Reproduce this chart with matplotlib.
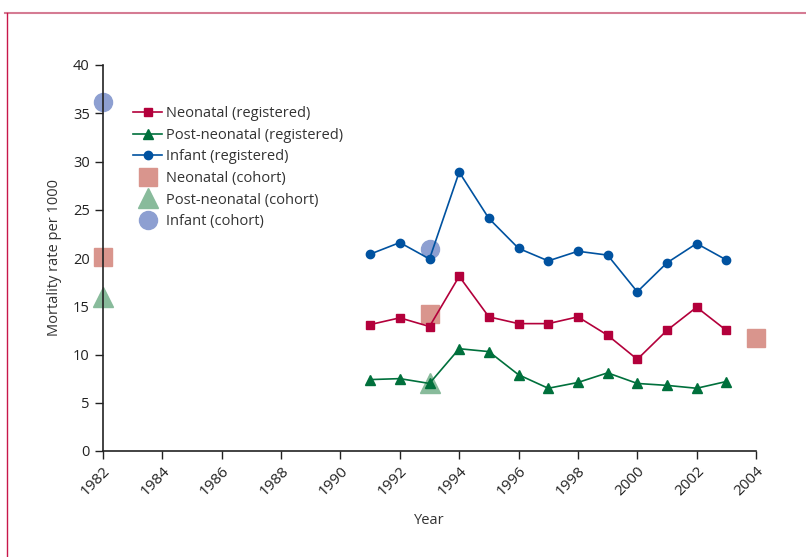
import matplotlib
matplotlib.use("Agg")
import matplotlib.pyplot as plt
from matplotlib.lines import Line2D

plt.rcParams['font.family'] = ['Open Sans', 'DejaVu Sans']

# registered rates, 1991-2003
years = [1991, 1992, 1993, 1994, 1995, 1996, 1997, 1998, 1999, 2000, 2001, 2002, 2003]
neonatal = [13.1, 13.8, 12.9, 18.1, 13.9, 13.2, 13.2, 13.9, 12.0, 9.5, 12.5, 14.9, 12.5]
postneonatal = [7.4, 7.5, 7.0, 10.6, 10.3, 7.9, 6.5, 7.1, 8.1, 7.0, 6.8, 6.5, 7.2]
infant = [20.4, 21.6, 19.9, 28.9, 24.1, 21.0, 19.7, 20.7, 20.3, 16.5, 19.5, 21.5, 19.8]

# cohort estimates
neo_cohort_years = [1982, 1993, 2004]
neo_cohort = [20.1, 14.2, 11.7]
post_cohort_years = [1982, 1993]
post_cohort = [16.0, 7.0]
inf_cohort_years = [1982, 1993]
inf_cohort = [36.2, 20.9]

xticks = list(range(1982, 2005, 2))
yticks = list(range(0, 41, 5))

c_neo = '#b3003b'
c_post = '#00703c'
c_inf = '#0052a0'
c_neo_c = '#d9958d'
c_post_c = '#88bb9b'
c_inf_c = '#8d9fd1'

fig = plt.figure(figsize=(8.06, 5.57), dpi=100)
ax = fig.add_axes([103 / 806, 106 / 557, 653 / 806, 386 / 557])

# cohort markers behind the lines
ax.plot(neo_cohort_years, neo_cohort, 's', color=c_neo_c, markersize=13, clip_on=False, zorder=2)
ax.plot(post_cohort_years, post_cohort, '^', color=c_post_c, markersize=14, clip_on=False, zorder=2)
ax.plot(inf_cohort_years, inf_cohort, 'o', color=c_inf_c, markersize=13, clip_on=False, zorder=2)

ax.plot(years, neonatal, '-s', color=c_neo, lw=1.2, markersize=6, zorder=3)
ax.plot(years, postneonatal, '-^', color=c_post, lw=1.2, markersize=6.5, zorder=3)
ax.plot(years, infant, '-o', color=c_inf, lw=1.2, markersize=6, zorder=3)

ax.set_xlim(1982, 2004)
ax.set_ylim(0, 40)
ax.set_xticks(xticks)
ax.set_xticklabels([str(x) for x in xticks], rotation=45, ha='right', rotation_mode='anchor')
ax.set_yticks(yticks)
ax.tick_params(direction='out', length=6, width=1, colors='#222222', labelsize=10.5)
ax.tick_params(axis='x', labelsize=11, pad=3)
for s in ['top', 'right']:
    ax.spines[s].set_visible(False)
for s in ['left', 'bottom']:
    ax.spines[s].set_linewidth(1.2)
    ax.spines[s].set_color('#222222')
ax.set_xlabel('Year', fontsize=10.5, color='#333333', labelpad=10)
ax.set_ylabel('Mortality rate per 1000', fontsize=10.5, color='#333333', labelpad=8)

handles = [
    Line2D([], [], color=c_neo, marker='s', lw=1.2, markersize=6),
    Line2D([], [], color=c_post, marker='^', lw=1.2, markersize=6.5),
    Line2D([], [], color=c_inf, marker='o', lw=1.2, markersize=6),
    Line2D([], [], color=c_neo_c, marker='s', lw=0, markersize=13),
    Line2D([], [], color=c_post_c, marker='^', lw=0, markersize=14),
    Line2D([], [], color=c_inf_c, marker='o', lw=0, markersize=13),
]
labels = ['Neonatal (registered)', 'Post-neonatal (registered)', 'Infant (registered)',
          'Neonatal (cohort)', 'Post-neonatal (cohort)', 'Infant (cohort)']
leg = ax.legend(handles, labels, loc='upper left', bbox_to_anchor=(0.046, 0.893),
                frameon=False, fontsize=10.5, borderpad=0, borderaxespad=0,
                handlelength=2.0, handletextpad=0.25, labelspacing=0.45)
for t in leg.get_texts():
    t.set_color('#333333')

# frame lines around the figure
fig.add_artist(Line2D([5 / 806, 1], [1 - 13 / 557, 1 - 13 / 557], color='#d57b93', lw=1.5))
fig.add_artist(Line2D([7 / 806, 7 / 806], [0, 1 - 13 / 557], color='#c8174a', lw=1.0))

fig.savefig('out.png', dpi=100)
